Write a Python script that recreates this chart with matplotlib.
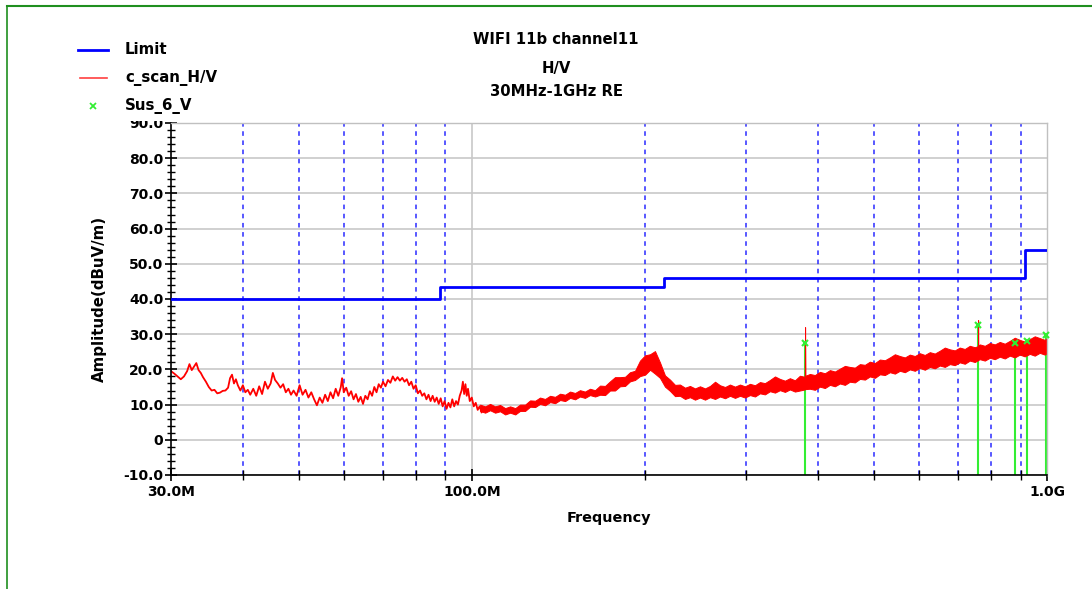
import matplotlib
matplotlib.use("Agg")
import matplotlib.pyplot as plt
from matplotlib.lines import Line2D
from matplotlib.patches import Rectangle
from matplotlib.ticker import FixedLocator, NullFormatter

plt.rcParams['font.family'] = ['DejaVu Sans']
plt.rcParams['font.weight'] = 'bold'

# ---------------- data ----------------
title_lines = ["WIFI 11b channel11", "H/V", "30MHz-1GHz RE"]

limit_freq = [30, 88, 88, 216, 216, 915, 915, 1000]          # MHz
limit_level = [40.0, 40.0, 43.5, 43.5, 46.0, 46.0, 54.0, 54.0]  # dBuV/m

# low-frequency part of the scan trace (thin, jagged line)
scan_low_freq = [30.0, 30.4, 30.8, 31.2, 31.6, 32.0, 32.3, 32.6, 32.9, 33.2,
                 33.5, 33.8, 34.1, 34.5, 34.9, 35.3, 35.7, 36.1, 36.5, 36.9,
                 37.3, 37.7, 38.0, 38.3, 38.6, 38.9, 39.2, 39.6, 40.0, 40.4,
                 40.8, 41.2, 41.7, 42.2, 42.7, 43.2, 43.7, 44.2, 44.7, 45.1,
                 45.5, 46.0, 46.5, 47.0, 47.5, 48.0, 48.5, 49.0, 49.6, 50.2,
                 50.8, 51.4, 52.0, 52.6, 53.2, 53.8, 54.4, 55.0, 55.6, 56.2,
                 56.8, 57.4, 58.0, 58.6, 59.2, 59.5, 59.9, 60.5, 61.1, 61.7,
                 62.3, 62.9, 63.5, 64.1, 64.7, 65.3, 65.9, 66.5, 67.1, 67.7,
                 68.3, 68.9, 69.5, 70.1, 70.8, 71.5, 72.2, 72.9, 73.6, 74.3,
                 75.0, 75.7, 76.4, 77.1, 77.8, 78.5, 79.2, 79.9, 80.6, 81.3,
                 82.0, 82.7, 83.4, 84.1, 84.8, 85.5, 86.2, 86.9, 87.6, 88.3,
                 89.0, 89.7, 90.4, 91.1, 91.8, 92.5, 93.2, 93.9, 94.6, 95.3,
                 96.0, 96.5, 97.0, 97.5, 98.0, 98.5, 99.2, 100.0, 100.8, 101.6,
                 102.4, 103.2, 104.0]
scan_low_level = [19.5, 18.8, 18.0, 17.2, 18.0, 19.5, 21.5, 19.8, 20.8, 21.8,
                  19.8, 19.0, 17.8, 16.5, 15.0, 14.0, 14.2, 13.2, 13.4, 13.9,
                  14.0, 14.8, 17.5, 18.5, 16.0, 17.2, 15.5, 14.0, 15.5, 13.5,
                  14.2, 12.8, 14.5, 12.5, 15.2, 13.0, 16.5, 14.5, 16.0, 19.0,
                  17.0, 16.0, 14.8, 15.8, 13.5, 14.5, 12.8, 14.0, 12.5, 15.5,
                  12.8, 14.2, 12.0, 13.5, 11.5, 9.8, 12.0, 10.5, 12.8, 11.0,
                  13.5, 11.8, 14.5, 12.5, 15.0, 17.5, 13.5, 14.8, 12.5, 13.8,
                  11.5, 13.0, 10.8, 12.2, 10.2, 12.5, 11.5, 13.8, 12.5, 15.0,
                  13.5, 15.8, 14.8, 16.5, 15.2, 17.0, 16.2, 18.0, 16.8, 17.8,
                  16.8, 17.6, 16.5, 17.2, 15.5, 16.5, 14.5, 15.5, 13.2, 14.0,
                  12.5, 13.2, 11.5, 12.8, 11.0, 12.5, 10.8, 12.0, 10.2, 11.8,
                  9.5, 11.0, 8.8, 10.5, 9.2, 11.5, 9.5, 11.0, 10.0, 12.5,
                  14.0, 16.5, 13.0, 15.8, 12.5, 14.5, 11.0, 12.0, 9.5, 10.5,
                  8.5, 9.5, 7.8]

# higher-frequency part of the scan trace (noise band: lower / upper edge)
scan_band_freq = [103.4, 105.5, 107.6, 109.8, 112.0, 114.3, 116.6, 119.0, 121.3, 123.8,
                  126.3, 128.9, 131.4, 134.1, 136.8, 139.6, 142.4, 145.3, 148.2, 151.2,
                  154.2, 157.3, 160.5, 163.8, 167.1, 170.5, 173.9, 177.4, 181.0, 184.7,
                  188.4, 192.2, 196.1, 200.1, 204.1, 208.2, 212.4, 216.7, 221.1, 225.6,
                  230.1, 234.8, 239.5, 244.4, 249.3, 254.4, 259.5, 264.8, 270.1, 275.6,
                  281.1, 286.8, 292.6, 298.5, 304.5, 310.7, 316.9, 323.3, 329.9, 336.6,
                  343.3, 350.3, 357.3, 364.6, 371.9, 379.2, 379.7, 380.2, 387.1, 394.9,
                  402.9, 411.0, 419.3, 427.8, 436.4, 445.3, 454.2, 463.4, 472.8, 482.4,
                  492.1, 502.1, 512.2, 522.6, 533.1, 543.9, 554.8, 566.1, 577.5, 589.2,
                  601.0, 613.2, 625.6, 638.2, 651.1, 664.3, 677.7, 691.4, 705.3, 719.6,
                  734.1, 749.0, 758.5, 759.0, 759.5, 764.1, 779.6, 795.3, 811.4, 827.7,
                  844.5, 861.5, 878.9, 896.6, 914.8, 933.2, 952.1, 971.3, 990.9, 1000.0]
scan_band_hi = [10.0, 9.5, 10.2, 9.5, 9.9, 9.0, 9.5, 9.0, 10.0, 10.0,
                11.2, 11.1, 12.0, 11.6, 12.5, 12.2, 13.1, 12.8, 13.7, 13.3,
                14.1, 13.7, 14.5, 14.1, 15.4, 15.3, 16.6, 17.8, 17.8, 17.9,
                19.2, 19.6, 22.5, 24.0, 24.3, 25.2, 22.0, 18.3, 17.1, 15.6,
                15.7, 14.8, 15.3, 14.6, 15.2, 14.6, 15.3, 16.5, 15.5, 15.0,
                15.7, 15.1, 15.7, 15.2, 15.9, 15.5, 16.4, 16.1, 17.0, 18.0,
                17.3, 16.8, 17.5, 16.9, 18.2, 17.9, 32.0, 18.2, 18.7, 18.4,
                19.3, 18.9, 19.8, 19.4, 20.2, 21.0, 20.7, 20.5, 21.5, 21.3,
                22.2, 21.8, 22.8, 22.6, 23.4, 24.3, 23.8, 23.4, 24.2, 23.8,
                24.6, 24.1, 24.9, 24.5, 25.3, 26.2, 25.7, 25.4, 26.2, 25.8,
                26.7, 26.3, 26.6, 34.0, 26.7, 27.1, 26.7, 27.5, 27.1, 27.8,
                27.3, 28.1, 29.0, 28.4, 27.9, 28.6, 29.4, 28.9, 28.4, 28.8]
scan_band_lo = [8.2, 7.7, 8.4, 7.7, 8.1, 7.2, 7.7, 7.2, 8.2, 8.2,
                9.4, 9.3, 10.2, 9.8, 10.7, 10.4, 11.3, 11.0, 11.9, 11.5,
                12.3, 11.9, 12.7, 12.3, 12.8, 12.7, 14.0, 14.0, 15.2, 15.3,
                16.6, 17.0, 18.1, 18.5, 19.9, 18.8, 17.6, 15.1, 13.9, 12.4,
                12.5, 11.6, 12.1, 11.4, 12.0, 11.4, 12.1, 11.6, 12.3, 11.8,
                12.5, 11.9, 12.5, 12.0, 12.7, 12.3, 13.2, 12.9, 13.8, 13.4,
                14.1, 13.6, 14.3, 13.7, 14.0, 14.3, 14.5, 14.4, 14.5, 14.2,
                15.1, 14.7, 15.6, 15.2, 16.0, 15.6, 16.5, 16.3, 17.3, 17.1,
                18.0, 17.6, 18.6, 18.4, 19.2, 18.8, 19.6, 19.2, 20.0, 19.6,
                20.4, 19.9, 20.7, 20.3, 21.1, 20.7, 21.5, 21.2, 22.0, 21.6,
                22.5, 22.1, 22.6, 22.8, 22.7, 22.9, 22.5, 23.3, 22.9, 23.6,
                23.1, 23.9, 23.4, 24.2, 23.7, 24.4, 23.9, 24.7, 24.2, 24.6]

sus_freq = [379.7, 759.0, 880.0, 923.0, 998.0]
sus_level = [27.5, 32.7, 27.6, 28.2, 29.8]

y_major = [-10, 0, 10, 20, 30, 40, 50, 60, 70, 80, 90]
y_labels = ["-10.0", "0", "10.0", "20.0", "30.0", "40.0", "50.0",
            "60.0", "70.0", "80.0", "90.0"]
y_minor = [v for v in range(-10, 91, 2) if v % 10 != 0]
x_major = [30, 100, 1000]
x_labels = ["30.0M", "100.0M", "1.0G"]
x_minor = [40, 50, 60, 70, 80, 90, 200, 300, 400, 500, 600, 700, 800, 900]

legend_labels = ["Limit", "c_scan_H/V", "Sus_6_V"]

# ---------------- figure ----------------
W, H = 1092, 589
fig = plt.figure(figsize=(W / 100, H / 100), dpi=100)
fig.patch.set_facecolor('white')

def fx(px):
    return px / W

def fy(py):
    return 1 - py / H

ax = fig.add_axes([fx(171), fy(475), fx(1047) - fx(171), fy(123) - fy(475)])
ax.set_xscale('log')
ax.set_xlim(30, 1000)
ax.set_ylim(-10, 90)

# grids
for yv in y_major:
    ax.axhline(yv, color='#c8c8c8', lw=1.2, zorder=0)
ax.axvline(100, color='#c8c8c8', lw=1.2, zorder=0)
for xv in x_minor:
    ax.axvline(xv, color='#2a2aff', lw=1.1, linestyle=(0, (3, 3)), zorder=0.5)

# limit
ax.plot(limit_freq, limit_level, color='#0000ff', lw=2.0, zorder=3)

# suspect verticals
for f, lv in zip(sus_freq, sus_level):
    ax.plot([f, f], [-10, lv], color='#33ee33', lw=1.5, zorder=2)

# scan
ax.plot(scan_low_freq, scan_low_level, color='#ff0000', lw=1.3, zorder=2.5)
ax.fill_between(scan_band_freq, scan_band_lo, scan_band_hi, color='#ff0000',
                lw=0.7, edgecolor='#ff0000', zorder=2.5)

# suspect markers
ax.plot(sus_freq, sus_level, linestyle='none', marker='x', color='#33ee33',
        markersize=5, markeredgewidth=1.5, zorder=4, clip_on=False)

# axes style
for s in ['top', 'right']:
    ax.spines[s].set_color('#c0c0c0')
    ax.spines[s].set_linewidth(1.0)
for s in ['left', 'bottom']:
    ax.spines[s].set_color('black')
    ax.spines[s].set_linewidth(1.2)

ax.yaxis.set_major_locator(FixedLocator(y_major))
ax.set_yticklabels(y_labels)
ax.yaxis.set_minor_locator(FixedLocator(y_minor))
ax.tick_params(axis='y', which='major', direction='inout', length=9, width=1.2,
               pad=1, labelsize=10)
ax.tick_params(axis='y', which='minor', direction='inout', length=6, width=1.0)

ax.xaxis.set_major_locator(FixedLocator(x_major))
ax.set_xticklabels(x_labels)
ax.xaxis.set_minor_locator(FixedLocator(x_minor))
ax.xaxis.set_minor_formatter(NullFormatter())
ax.tick_params(axis='x', which='major', direction='inout', length=9, width=1.2,
               pad=3, labelsize=10)
ax.tick_params(axis='x', which='minor', direction='inout', length=7, width=1.0)
for lbl in ax.get_xticklabels() + ax.get_yticklabels():
    lbl.set_fontweight('bold')

ax.set_xlabel("Frequency", fontsize=10.4, fontweight='bold', labelpad=8)
ax.set_ylabel("Amplitude(dBuV/m)", fontsize=10.8, fontweight='bold', labelpad=12)

# white box over legend area (partially hides top label)
fig.add_artist(Rectangle((fx(60), fy(121)), fx(110), fy(30) - fy(121),
                         transform=fig.transFigure, facecolor='white',
                         edgecolor='none', zorder=5))

# title
for txt, py in zip(title_lines, [39, 68, 91]):
    fig.text(fx(556), fy(py), txt, ha='center', va='center', fontsize=10.7,
             fontweight='bold', zorder=6)

# legend
leg_rows = [50, 78, 106]
fig.add_artist(Line2D([fx(78), fx(108)], [fy(leg_rows[0])] * 2, color='#0000ff',
                      lw=2.0, transform=fig.transFigure, zorder=6))
fig.add_artist(Line2D([fx(80), fx(107)], [fy(leg_rows[1])] * 2, color='#ff4040',
                      lw=1.2, transform=fig.transFigure, zorder=6))
fig.add_artist(Line2D([fx(93)], [fy(leg_rows[2])], color='#33ee33', marker='x',
                      markersize=4, markeredgewidth=1.3, linestyle='none',
                      transform=fig.transFigure, zorder=6))
for txt, py in zip(legend_labels, leg_rows):
    fig.text(fx(125), fy(py), txt, ha='left', va='center', fontsize=10.8,
             fontweight='bold', zorder=6)

# green frame lines
fig.add_artist(Line2D([fx(7), fx(W)], [fy(6), fy(6)], color='#1f8f1f', lw=1.5,
                      transform=fig.transFigure))
fig.add_artist(Line2D([fx(7), fx(7)], [fy(6), fy(H)], color='#1f8f1f', lw=1.2,
                      transform=fig.transFigure))

fig.savefig("out.png", dpi=100)
